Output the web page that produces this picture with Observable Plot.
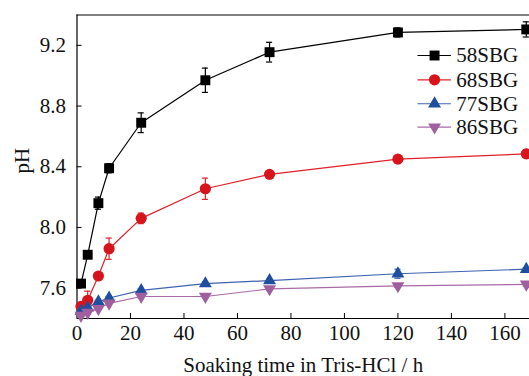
<!DOCTYPE html>
<html>
<head>
<meta charset="utf-8">
<script src="https://cdn.jsdelivr.net/npm/d3@7"></script>
<script src="https://cdn.jsdelivr.net/npm/@observablehq/plot@0.6"></script>
<style>
  html, body { margin: 0; padding: 0; background: #fff; overflow: hidden; }
</style>
</head>
<body>
<div id="chart"></div>
<script>
// ---- data ----
const times = [1.5, 4, 8, 12, 24, 48, 72, 120, 168];
const seriesNames = ["58SBG", "68SBG", "77SBG", "86SBG"];
const ph58 = [7.63, 7.82, 8.16, 8.39, 8.69, 8.97, 9.155, 9.285, 9.305];
const err58 = [0.01, 0.02, 0.04, 0.03, 0.065, 0.08, 0.065, 0.03, 0.05];
const ph68 = [7.48, 7.52, 7.68, 7.86, 8.06, 8.255, 8.35, 8.45, 8.485];
const err68 = [0.02, 0.06, 0.02, 0.07, 0.035, 0.07, 0.015, 0.025, 0.025];
const ph77 = [7.45, 7.47, 7.51, 7.535, 7.585, 7.63, 7.65, 7.695, 7.725];
const err77 = [0.01, 0.01, 0.01, 0.01, 0.01, 0.01, 0.01, 0.03, 0.01];
const ph86 = [7.42, 7.44, 7.465, 7.50, 7.545, 7.545, 7.595, 7.615, 7.625];
const err86 = [0.01, 0.01, 0.01, 0.01, 0.01, 0.01, 0.01, 0.01, 0.01];
const xTicks = [0, 20, 40, 60, 80, 100, 120, 140, 160];
const yTicks = [7.6, 8.0, 8.4, 8.8, 9.2];
const xLabel = "Soaking time in Tris-HCl / h";
const yLabel = "pH";

// ---- styles ----
const triangleDown = {
  draw(context, size) {
    const sqrt3 = Math.sqrt(3);
    const y = Math.sqrt(size / (sqrt3 * 3));
    context.moveTo(0, y * 2);
    context.lineTo(-sqrt3 * y, -y);
    context.lineTo(sqrt3 * y, -y);
    context.closePath();
  }
};
const styles = {
  "58SBG": {stroke: "#000000", fill: "#000000", symbol: "square", r: 5.6},
  "68SBG": {stroke: "#e0202a", fill: "#d7141c", symbol: "circle", r: 5.6},
  "77SBG": {stroke: "#3d63b0", fill: "#1f4e9f", symbol: "triangle", r: 4.8},
  "86SBG": {stroke: "#a86aa6", fill: "#a0609f", symbol: triangleDown, r: 4.8}
};

const valuesBySeries = {"58SBG": ph58, "68SBG": ph68, "77SBG": ph77, "86SBG": ph86};
const errBySeries = {"58SBG": err58, "68SBG": err68, "77SBG": err77, "86SBG": err86};

const rows = [];
for (const s of seriesNames) {
  valuesBySeries[s].forEach((v, i) => rows.push({series: s, t: times[i], ph: v, err: errBySeries[s][i]}));
}

const xDomain = [0, 169.2];
const yDomain = [7.4, 9.4];
const font = "'Liberation Serif', 'Times New Roman', serif";
const fs = 21;

const capHalf = 1.15;   // error bar cap half-width in hours
const tickLenY = 0.033; // inward tick length (pH units)
const tickLenX = 1.9;   // inward tick length (hours)

// legend placement (inside the frame, top right)
const legX1 = 127.5, legX2 = 140, legXm = 133.7, legXt = 141.8;
const legY = [9.133, 8.973, 8.815, 8.661];
const legend = seriesNames.map((s, i) => ({series: s, y: legY[i]}));

const marks = [];
// frame
marks.push(Plot.ruleY(yDomain, {x1: xDomain[0], x2: xDomain[1], stroke: "#000", strokeWidth: 1.2}));
marks.push(Plot.ruleX([xDomain[0]], {y1: yDomain[0], y2: yDomain[1], stroke: "#000", strokeWidth: 1.2}));
// inward ticks
marks.push(Plot.ruleX(xTicks.slice(1), {x: d => d, y1: yDomain[0], y2: yDomain[0] + tickLenY, stroke: "#000", strokeWidth: 1}));
marks.push(Plot.ruleY(yTicks, {y: d => d, x1: xDomain[0], x2: xDomain[0] + tickLenX, stroke: "#000", strokeWidth: 1}));
// tick labels
marks.push(Plot.axisX({ticks: xTicks, tickSize: 0, tickPadding: 7, label: null, tickFormat: d => String(d), fontSize: fs}));
marks.push(Plot.axisY({ticks: yTicks, tickSize: 0, tickPadding: 11, label: null, tickFormat: d => d.toFixed(1), fontSize: fs}));
// axis titles
marks.push(Plot.text([xLabel], {frameAnchor: "bottom", dy: 47, lineAnchor: "middle", fontSize: fs, fill: "#111"}));
marks.push(Plot.text([yLabel], {frameAnchor: "left", dx: -55, dy: -6, rotate: -90, textAnchor: "middle", lineAnchor: "middle", fontSize: fs, fill: "#111"}));

for (const s of seriesNames) {
  const st = styles[s];
  const data = rows.filter(d => d.series === s);
  marks.push(Plot.line(data, {x: "t", y: "ph", stroke: st.stroke, strokeWidth: 1.2}));
  marks.push(Plot.ruleX(data, {x: "t", y1: d => d.ph - d.err, y2: d => d.ph + d.err, stroke: st.stroke, strokeWidth: 1.2}));
  marks.push(Plot.ruleY(data, {y: d => d.ph - d.err, x1: d => d.t - capHalf, x2: d => d.t + capHalf, stroke: st.stroke, strokeWidth: 1.2}));
  marks.push(Plot.ruleY(data, {y: d => d.ph + d.err, x1: d => d.t - capHalf, x2: d => d.t + capHalf, stroke: st.stroke, strokeWidth: 1.2}));
  marks.push(Plot.dot(data, {x: "t", y: "ph", symbol: st.symbol, r: st.r, fill: st.fill, stroke: "none"}));
  // legend entry
  const le = legend.filter(d => d.series === s);
  marks.push(Plot.ruleY(le, {y: "y", x1: legX1, x2: legX2, stroke: st.stroke, strokeWidth: 1.2}));
  marks.push(Plot.dot(le, {x: legXm, y: "y", symbol: st.symbol, r: st.r, fill: st.fill, stroke: "none"}));
  marks.push(Plot.text(le, {x: legXt, y: "y", text: "series", textAnchor: "start", lineAnchor: "middle", fontSize: fs, fill: "#111"}));
}

const chart = Plot.plot({
  width: 529,
  height: 376,
  marginLeft: 76.5,
  marginRight: 0,
  marginTop: 14.5,
  marginBottom: 58,
  style: {fontFamily: font, fontSize: fs + "px", color: "#111", background: "#fff", overflow: "visible"},
  x: {domain: xDomain},
  y: {domain: yDomain},
  marks
});
document.getElementById("chart").appendChild(chart);
</script>
</body>
</html>
